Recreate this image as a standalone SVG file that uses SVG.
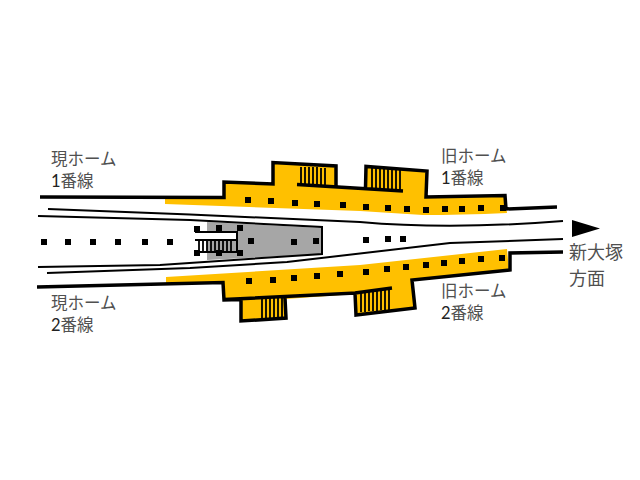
<svg xmlns="http://www.w3.org/2000/svg" width="640" height="480" viewBox="0 0 640 480">
<style>
.o{fill:#ffc000;stroke:none}
.k{fill:none;stroke:#000;stroke-width:3.500;stroke-linejoin:miter}
.t{fill:none;stroke:#000;stroke-width:2}
.h{fill:none;stroke:#000;stroke-width:1.800}
.d{fill:#000;stroke:none}
text{font-family:"Noto Sans CJK JP","Noto Sans CJK SC",sans-serif;font-size:16.500px;fill:#505050}
.n{font-family:"Lato","Noto Sans CJK JP",sans-serif;fill:#222}
</style>
<defs><rect id="s" x="-3" y="-3" width="6" height="6"/></defs>
<rect width="640" height="480" fill="#fff"/>
<g id="platform-top">
<path class="o" d="M165 199 L224 198 L224 182 L273 184 L273 163 L336 166 L336 186 L366 188 L366 167 L427 171 L427 197 L505 196 L507 213 Q460 215 423 215 L360 211 L165 204Z"/>
<path class="h" d="M301 167V184M305 167V185M309 167V185M313 167V185M317 167V185M321 168V185M325 168V185M372 168V189M376 168V189M380 168V189M384 168V190M388 168V190M392 168V190M396 169V190M400 169V190"/>
<path class="k" d="M40 197 L224 197.500 L224 182 L273 184 L273 162.500 L336 166 L336 186 M297 184.500 L403 191 M365.500 188 L366 166.500 L427 171 L426 197 L505 195.500 L506 209 L557 207"/>
</g>
<g id="platform-bottom">
<path class="o" d="M166 277 L360 265 L507 249 L509 271 L412 281 L415 307 L356 314 L355 294 L286 299 L286 318 L241 321 L240 300 L224 300 L223 283 L166 284Z"/>
<path class="h" d="M262 299V318M266 299V318M270 298V318M274 298V318M278 298V318M282 298V318M361 293V312M365 293V312M369 292V311M373 292V311M377 291V311M381 291V310M385 290V310M389 290V310"/>
<path class="k" d="M37 287 L223 282.500 L224 300 L241 299.500 L241 321 L286 318 L285 298 M224 299.500 L355 293 L356 315 L415 308 L412 280 L510 270 L510 253 L563 252 M355 293 L392 288"/>
</g>
<g id="center-platform">
<path d="M207 222 L322 228 L322 254 L207 260Z" fill="#a6a6a6"/>
<rect x="197" y="232" width="40" height="8" fill="#fff"/>
<rect x="195" y="232" width="12" height="26" fill="#fff"/>
<path class="k" style="stroke-width:2" d="M195 232H237V253M195 240H237M195 252H237"/>
<path class="h" d="M199 240V252M203 240V252M207 240V252M211 240V252M215 240V252M219 240V252M223 240V252M227 240V252M231 240V252"/>
</g>
<g id="connectors">
<path class="t" d="M48 209 L190 214.500 L360 222 Q450 230 563 221"/>
<path class="t" d="M38 216 L190 220 L322 227 L322 254 L160 265 L38 267"/>
<path class="t" d="M47 273 L190 268 L287 262 Q400 249 450 243 L563 239"/>
</g>
<g id="dots" class="d">
<use href="#s" x="248" y="200"/><use href="#s" x="271" y="201"/><use href="#s" x="295" y="203"/><use href="#s" x="317" y="204"/><use href="#s" x="343" y="205"/><use href="#s" x="366" y="207"/><use href="#s" x="388" y="208"/><use href="#s" x="407" y="209"/><use href="#s" x="426" y="210"/><use href="#s" x="445" y="209"/><use href="#s" x="462" y="209"/><use href="#s" x="481" y="208"/><use href="#s" x="503" y="208"/>
<use href="#s" x="249" y="281"/><use href="#s" x="273" y="280"/><use href="#s" x="294" y="278"/><use href="#s" x="317" y="276"/><use href="#s" x="340" y="274"/><use href="#s" x="366" y="272"/><use href="#s" x="387" y="269"/><use href="#s" x="406" y="267"/><use href="#s" x="426" y="265"/><use href="#s" x="444" y="263"/><use href="#s" x="462" y="261"/><use href="#s" x="481" y="259"/><use href="#s" x="502" y="258"/>
<use href="#s" x="44" y="242"/><use href="#s" x="68" y="242"/><use href="#s" x="93" y="242"/><use href="#s" x="118" y="242"/><use href="#s" x="145" y="242"/><use href="#s" x="170" y="242"/><use href="#s" x="251" y="241"/><use href="#s" x="294" y="242"/><use href="#s" x="316" y="241"/><use href="#s" x="366" y="240"/><use href="#s" x="388" y="239"/><use href="#s" x="403" y="239"/>
<use href="#s" x="197" y="229"/><use href="#s" x="219" y="228"/><use href="#s" x="240" y="228"/><use href="#s" x="197" y="253"/><use href="#s" x="219" y="253"/><use href="#s" x="240" y="253"/>
</g>
<g id="arrow"><polygon points="572,220 600,228.500 572,237" fill="#000"/></g>
<g id="labels">
<text x="51" y="164.500">現ホーム<tspan x="51" dy="22"><tspan class="n">1</tspan>番線</tspan></text>
<text x="51" y="308.500">現ホーム<tspan x="51" dy="22"><tspan class="n">2</tspan>番線</tspan></text>
<text x="441" y="161.500">旧ホーム<tspan x="441" dy="22"><tspan class="n">1</tspan>番線</tspan></text>
<text x="441" y="297">旧ホーム<tspan x="441" dy="22"><tspan class="n">2</tspan>番線</tspan></text>
<text x="569" y="259" style="font-size:18px">新大塚<tspan x="569" dy="26">方面</tspan></text>
</g>
</svg>
